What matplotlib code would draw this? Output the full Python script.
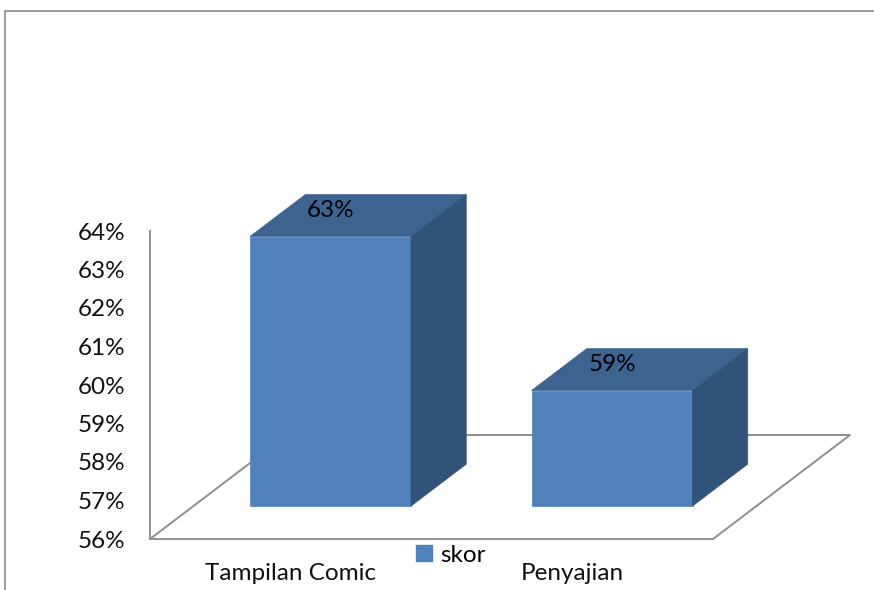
import matplotlib
matplotlib.use('Agg')
import matplotlib.pyplot as plt
from matplotlib.patches import Polygon, Patch
from matplotlib.lines import Line2D
from matplotlib.ticker import FuncFormatter

categories = ['Tampilan Comic', 'Penyajian']
skor = [63, 59]
y_ticks = [56, 57, 58, 59, 60, 61, 62, 63, 64]
series_name = 'skor'

FRONT = '#4F81BD'
TOP = '#3D6491'
SIDE = '#325379'
GRID = '#8f8f8f'
FS = 17.5

plt.rcParams['font.family'] = ['Lato', 'DejaVu Sans']

# oblique projection: depth z in [0, 1] shifts x and y
KX, KY = 0.4867, 2.701
Z0, Z1 = 0.317, 0.72
BAR_W = 0.572
BAR_SHIFT = -0.013
Y_MIN, Y_MAX = 56, 64


def proj(x, y, z):
  return (x + z * KX, y + z * KY)


fig = plt.figure(figsize=(8.74, 5.90), dpi=100)
ax = fig.add_axes([150 / 874, 51 / 590, 563 / 874, 308 / 590])
ax.set_xlim(-0.5, len(categories) - 0.5)
ax.set_ylim(Y_MIN, Y_MAX)

# floor
x0, x1 = -0.5, len(categories) - 0.5
floor = [proj(x0, Y_MIN, 0), proj(x1, Y_MIN, 0), proj(x1, Y_MIN, 1), proj(x0, Y_MIN, 1)]
fx, fy = zip(*(floor + floor[:1]))
ax.plot(fx, fy, color=GRID, lw=1.4, clip_on=False, zorder=1)

# bars
for i, v in enumerate(skor):
  c0 = i + BAR_SHIFT
  l, r = c0 - BAR_W / 2, c0 + BAR_W / 2
  front = [proj(l, Y_MIN, Z0), proj(r, Y_MIN, Z0), proj(r, v, Z0), proj(l, v, Z0)]
  top = [proj(l, v, Z0), proj(r, v, Z0), proj(r, v, Z1), proj(l, v, Z1)]
  side = [proj(r, Y_MIN, Z0), proj(r, Y_MIN, Z1), proj(r, v, Z1), proj(r, v, Z0)]
  for pts, c in ((front, FRONT), (top, TOP), (side, SIDE)):
    ax.add_patch(Polygon(pts, closed=True, facecolor=c, edgecolor=c, lw=0.5,
                         clip_on=False, zorder=3))
  ax.annotate(f'{v}%', xy=proj(c0, v, Z0), xytext=(0, 19), textcoords='offset points',
              ha='center', va='center', fontsize=FS, color='black', zorder=5,
              annotation_clip=False)

for s in ['top', 'right', 'bottom']:
  ax.spines[s].set_visible(False)
ax.spines['left'].set_color(GRID)
ax.spines['left'].set_linewidth(1.4)
ax.set_facecolor('none')

ax.set_yticks(y_ticks)
ax.yaxis.set_major_formatter(FuncFormatter(lambda v, _: f'{v:.0f}%'))
ax.set_xticks(range(len(categories)))
ax.set_xticklabels(categories)
ax.tick_params(axis='y', length=0, pad=18, labelsize=FS, labelcolor='#111111')
ax.tick_params(axis='x', length=0, pad=17, labelsize=FS, labelcolor='#111111')

fig.legend(handles=[Patch(facecolor=FRONT, edgecolor=FRONT)], labels=[series_name],
           loc='center', bbox_to_anchor=(451 / 874, 1 - 555 / 590), frameon=False,
           fontsize=FS, handlelength=0.62, handleheight=0.62, handletextpad=0.35)

# outer chart border
fig.add_artist(Line2D([5 / 874, 5 / 874, 1], [0, 1 - 11 / 590, 1 - 11 / 590],
                      transform=fig.transFigure, color='#8a8a8a', lw=1.2))

fig.savefig('out.png', dpi=100)
